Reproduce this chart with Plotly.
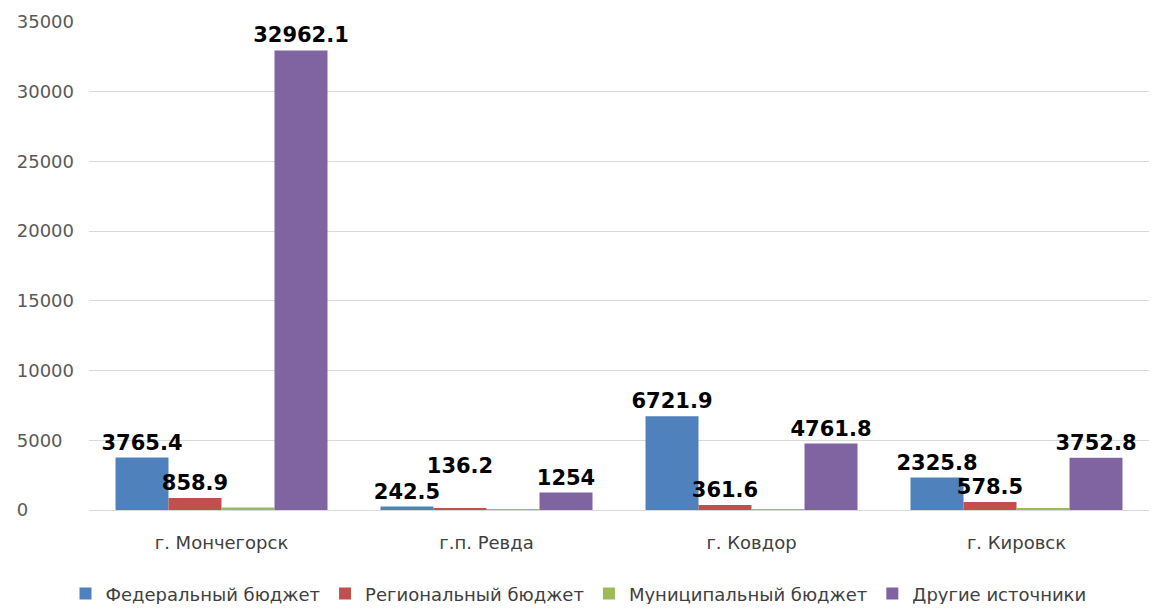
import plotly.graph_objects as go

categories = ["г. Мончегорск", "г.п. Ревда", "г. Ковдор", "г. Кировск"]
federal = [3765.4, 242.5, 6721.9, 2325.8]
regional = [858.9, 136.2, 361.6, 578.5]
municipal = [180, 30, 60, 140]
other = [32962.1, 1254, 4761.8, 3752.8]
y_ticks = [0, 5000, 10000, 15000, 20000, 25000, 30000, 35000]

series = [
    ("Федеральный бюджет", federal, "#4F81BD", True),
    ("Региональный бюджет", regional, "#C0504D", True),
    ("Муниципальный бюджет", municipal, "#9BBB59", False),
    ("Другие источники", other, "#8064A2", True),
]

def fmt(v):
    return ("%g" % v) if float(v).is_integer() else ("%.1f" % v)

def label(v, raise_it=False):
    s = fmt(v)
    return s + "<br> " if raise_it else s

fig = go.Figure()
for name, vals, color, show in series:
    texts = None
    if show:
        texts = [label(v, raise_it=(name == "Региональный бюджет" and cat == "г.п. Ревда"))
                 for v, cat in zip(vals, categories)]
    fig.add_trace(go.Bar(
        x=categories, y=vals, name=name,
        marker=dict(color=color, line=dict(width=0)),
        text=texts,
        textposition="outside" if show else "none",
        textangle=0,
        constraintext="none",
        textfont=dict(family="DejaVu Sans", size=21, color="#000000", weight="bold"),
        cliponaxis=False,
    ))

# left-aligned look for y tick labels using figure-space padding
maxlen = max(len(str(t)) for t in y_ticks)
y_ticktext = [str(t) + "\u2007" * (maxlen - len(str(t))) for t in y_ticks]

fig.update_layout(
    width=1141, height=596,
    paper_bgcolor="white", plot_bgcolor="white",
    barmode="group", bargap=0.2, bargroupgap=0,
    margin=dict(l=81, r=0, t=14, b=94),
    font=dict(family="DejaVu Sans, sans-serif", color="#595959", size=18),
    xaxis=dict(showgrid=False, showline=True, linecolor="#D9D9D9", linewidth=1,
               ticks="", ticklabelstandoff=16, automargin=False,
               tickfont=dict(size=18, color="#404040")),
    yaxis=dict(range=[0, 35000], tickvals=y_ticks, ticktext=y_ticktext,
               showgrid=True, gridcolor="#D9D9D9", gridwidth=1, zeroline=False,
               showline=False, ticks="", automargin=False, ticklabelstandoff=14,
               tickfont=dict(size=18, color="#595959")),
    legend=dict(orientation="h", xref="container", x=0.5, xanchor="center",
                yref="container", y=0.017, yanchor="middle",
                font=dict(size=18, color="#404040"), itemwidth=30,
                tracegroupgap=0, traceorder="normal"),
)
fig.write_html("out.html")
